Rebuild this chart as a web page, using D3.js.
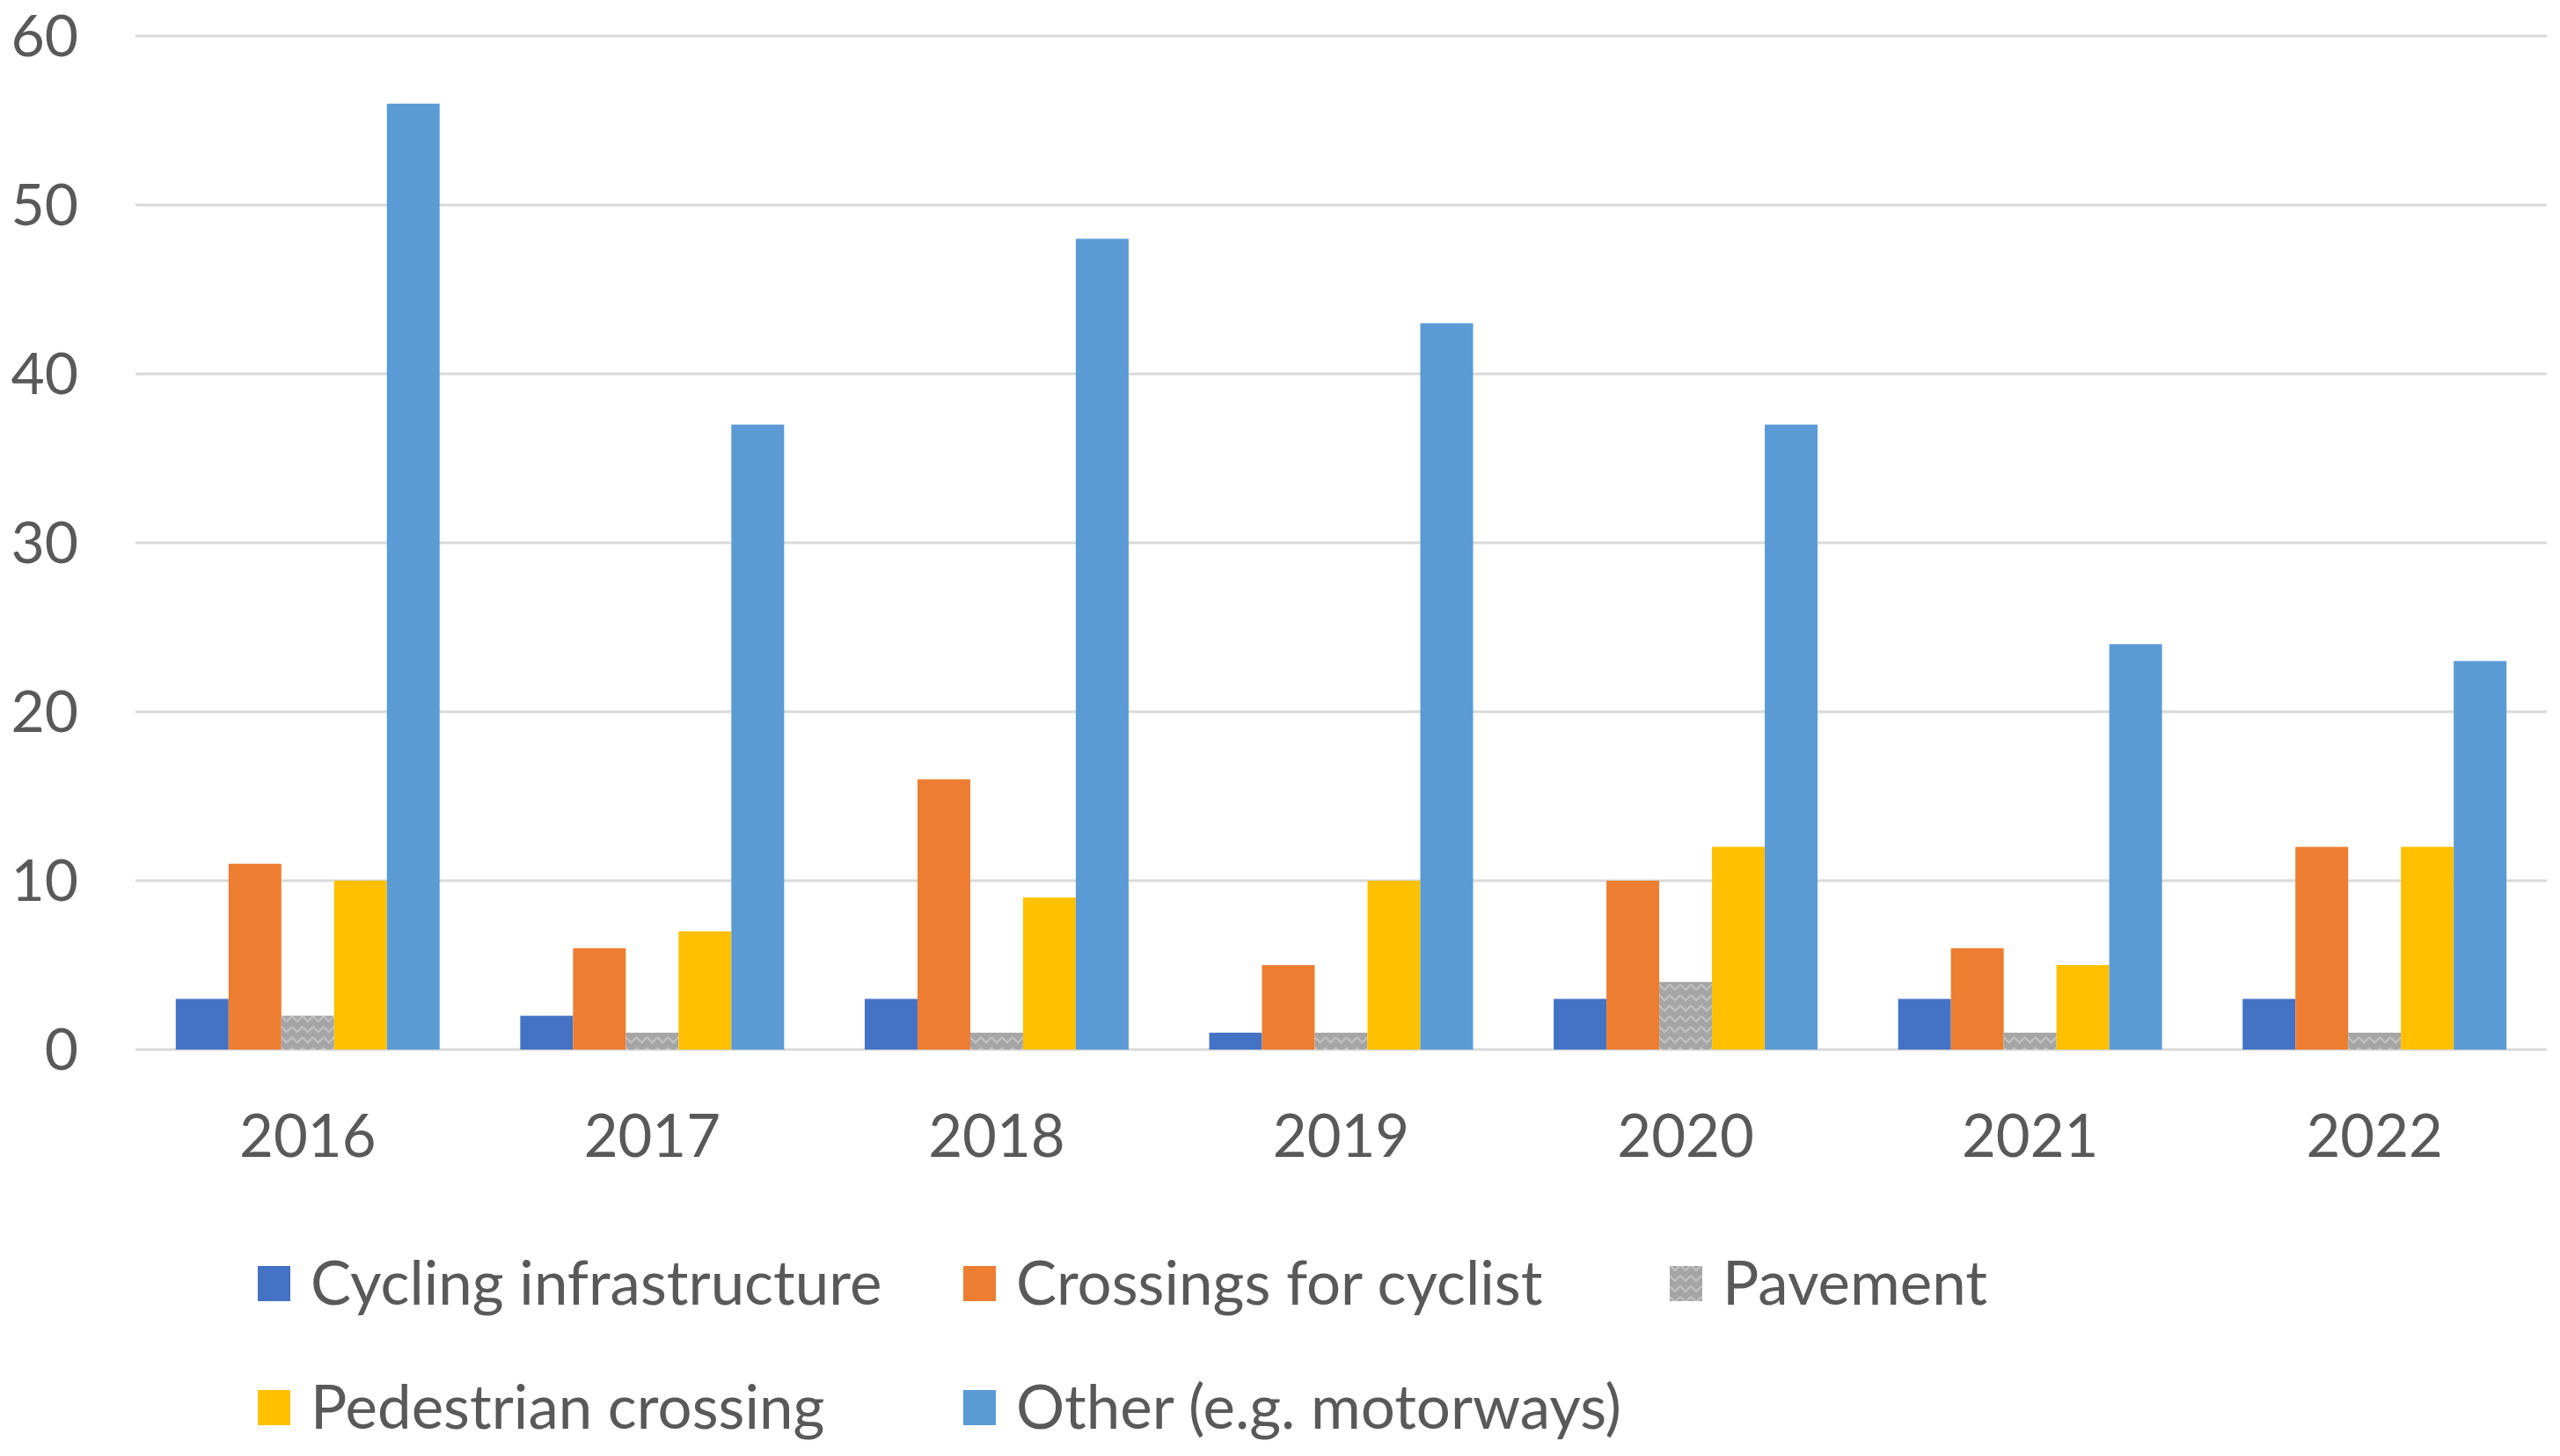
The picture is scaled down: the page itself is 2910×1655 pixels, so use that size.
<!DOCTYPE html>
<html>
<head>
<meta charset="utf-8">
<script src="https://cdnjs.cloudflare.com/ajax/libs/d3/7.8.5/d3.min.js"></script>
<style>
  body { margin: 0; background: #fff; }
  #chart { width: 2910px; height: 1655px; }
</style>
</head>
<body>
<div id="chart"></div>
<script>
const years = ["2016", "2017", "2018", "2019", "2020", "2021", "2022"];
const seriesNames = ["Cycling infrastructure", "Crossings for cyclist", "Pavement", "Pedestrian crossing", "Other (e.g. motorways)"];
const cycling     = [3, 2, 3, 1, 3, 3, 3];
const crossings   = [11, 6, 16, 5, 10, 6, 12];
const pavement    = [2, 1, 1, 1, 4, 1, 1];
const pedestrian  = [10, 7, 9, 10, 12, 5, 12];
const other       = [56, 37, 48, 43, 37, 24, 23];
const yTicks = [0, 10, 20, 30, 40, 50, 60];

const seriesValues = [cycling, crossings, pavement, pedestrian, other];
const colors = ["#4472C4", "#ED7D31", "url(#pave)", "#FFC000", "#5B9BD5"];

const W = 2910, H = 1655;
const plotL = 154, plotR = 2895, plotT = 41, plotB = 1193;
const font = "Lato, 'Open Sans', sans-serif";
const textColor = "#595959";

const svg = d3.select("#chart").append("svg")
  .attr("width", W).attr("height", H);

// hatch for the pavement series
const defs = svg.append("defs");
const pat = defs.append("pattern")
  .attr("id", "pave").attr("patternUnits", "userSpaceOnUse")
  .attr("width", 12).attr("height", 12);
pat.append("rect").attr("width", 12).attr("height", 12).attr("fill", "#A5A5A5");
pat.append("path").attr("d", "M0,3 L6,9 L12,3")
  .attr("fill", "none").attr("stroke", "#C2C2C2").attr("stroke-width", 2);

const x0 = d3.scaleBand().domain(years).range([plotL, plotR])
  .paddingInner(0.234).paddingOuter(0.117);
const x1 = d3.scaleBand().domain(d3.range(seriesNames.length))
  .range([0, x0.bandwidth()]);
const y = d3.scaleLinear().domain([0, 60]).range([plotB, plotT]);

// gridlines
svg.append("g").selectAll("line").data(yTicks).join("line")
  .attr("x1", plotL).attr("x2", plotR)
  .attr("y1", d => y(d)).attr("y2", d => y(d))
  .attr("stroke", "#D9D9D9").attr("stroke-width", 3);

// y labels
svg.append("g").selectAll("text").data(yTicks).join("text")
  .attr("x", 89).attr("y", d => y(d)).attr("dy", "0.35em")
  .attr("text-anchor", "end")
  .attr("font-family", font).attr("font-size", 66).attr("fill", textColor)
  .text(d => d);

// bars
const groups = svg.append("g").selectAll("g").data(years).join("g")
  .attr("transform", d => `translate(${x0(d)},0)`);
groups.selectAll("rect")
  .data((yr, i) => seriesValues.map((vals, s) => ({ s, v: vals[i] })))
  .join("rect")
  .attr("x", d => x1(d.s))
  .attr("width", x1.bandwidth())
  .attr("y", d => y(d.v))
  .attr("height", d => y(0) - y(d.v))
  .attr("fill", d => colors[d.s]);

// x labels
svg.append("g").selectAll("text").data(years).join("text")
  .attr("x", d => x0(d) + x0.bandwidth() / 2).attr("y", 1292).attr("dy", "0.35em")
  .attr("text-anchor", "middle")
  .attr("font-family", font).attr("font-size", 67).attr("fill", textColor)
  .text(d => d);

// legend
const legendPos = [[293, 1459], [1095, 1459], [1898, 1459], [293, 1600], [1095, 1600]];
const leg = svg.append("g").selectAll("g").data(seriesNames).join("g")
  .attr("transform", (d, i) => `translate(${legendPos[i][0]},${legendPos[i][1]})`);
leg.append("rect").attr("x", 0).attr("y", -20).attr("width", 37).attr("height", 40)
  .attr("fill", (d, i) => colors[i]);
leg.append("text").attr("x", 60).attr("y", 0).attr("dy", "0.35em")
  .attr("font-family", font).attr("font-size", 69).attr("fill", textColor)
  .text(d => d);
</script>
</body>
</html>
